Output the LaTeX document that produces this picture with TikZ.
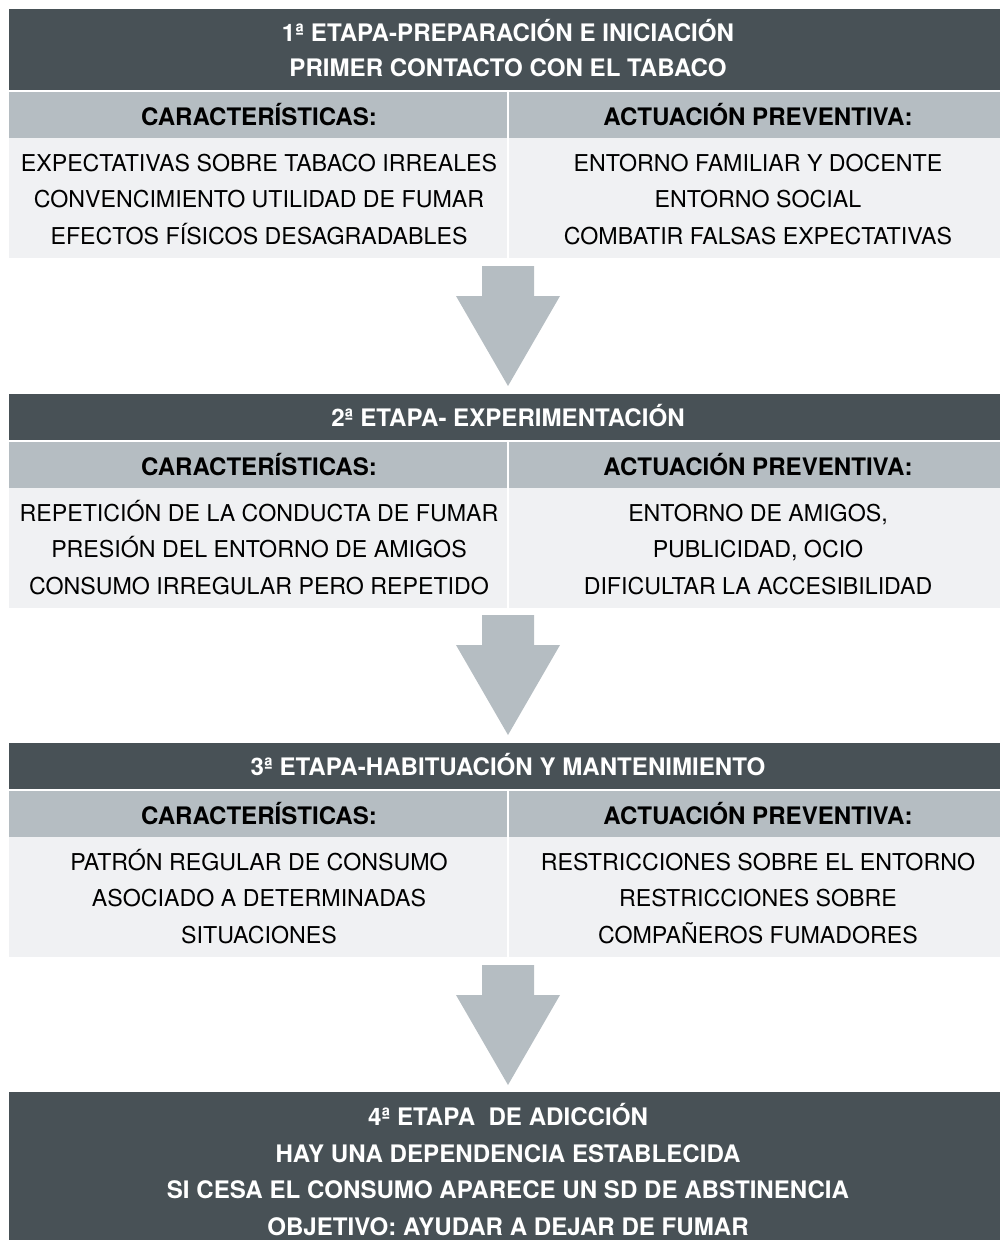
\documentclass[tikz,border=0pt]{standalone}
\usepackage{fontspec}
\setmainfont{TeX Gyre Heros}
\definecolor{darkhdr}{HTML}{485156}
\definecolor{subgray}{HTML}{B5BDC2}
\definecolor{bodygray}{HTML}{F0F1F3}
\definecolor{arrowgray}{HTML}{B5BDC2}
\begin{document}
\begin{tikzpicture}[x=1pt,y=-1pt,
  hdrtxt/.style={text=white, font=\bfseries\fontsize{24.1}{36}\selectfont, inner sep=0pt, text height=17.3pt, text depth=0pt},
  subtxt/.style={text=black, font=\bfseries\fontsize{24.1}{36}\selectfont, inner sep=0pt, text height=17.3pt, text depth=0pt},
  bodytxt/.style={text=black, font=\fontsize{23.2}{36}\selectfont, inner sep=0pt, text height=16.7pt, text depth=0pt},
  sepline/.style={draw=white, line width=1.2pt},
  downarrow/.pic={\fill[arrowgray] (-26,0) -- (26,0) -- (26,30) -- (52,30) -- (0,120) -- (-52,30) -- (-26,30) -- cycle;}
]
\useasboundingbox (0,0) rectangle (999,1240);

% ---------- Block 1 ----------
\fill[darkhdr] (9,9) rectangle (1010,91);
\fill[subgray] (9,91) rectangle (1010,138);
\fill[bodygray] (9,138) rectangle (1010,258);
\draw[sepline] (9,91) -- (1010,91);
\draw[sepline] (508,91) -- (508,258);
\node[hdrtxt] (h1a) at (508,33) {1ª ETAPA-PREPARACIÓN E INICIACIÓN};
\node[hdrtxt] (h1b) at (508,68) {PRIMER CONTACTO CON EL TABACO};
\node[subtxt] (s1l) at (259,116.5) {CARACTERÍSTICAS:};
\node[subtxt] (s1r) at (758,116.5) {ACTUACIÓN PREVENTIVA:};
\node[bodytxt] (b1l1) at (259,163) {EXPECTATIVAS SOBRE TABACO IRREALES};
\node[bodytxt] (b1l2) at (259,199.5) {CONVENCIMIENTO UTILIDAD DE FUMAR};
\node[bodytxt] (b1l3) at (259,236) {EFECTOS FÍSICOS DESAGRADABLES};
\node[bodytxt] (b1r1) at (758,163) {ENTORNO FAMILIAR Y DOCENTE};
\node[bodytxt] (b1r2) at (758,199.5) {ENTORNO SOCIAL};
\node[bodytxt] (b1r3) at (758,236) {COMBATIR FALSAS EXPECTATIVAS};

\pic (arr1) at (508,266) {downarrow};

% ---------- Block 2 ----------
\fill[darkhdr] (9,394) rectangle (1010,441);
\fill[subgray] (9,441) rectangle (1010,488);
\fill[bodygray] (9,488) rectangle (1010,608);
\draw[sepline] (9,441) -- (1010,441);
\draw[sepline] (508,441) -- (508,608);
\node[hdrtxt] (h2) at (508,418) {2ª ETAPA- EXPERIMENTACIÓN};
\node[subtxt] (s2l) at (259,466.5) {CARACTERÍSTICAS:};
\node[subtxt] (s2r) at (758,466.5) {ACTUACIÓN PREVENTIVA:};
\node[bodytxt] (b2l1) at (259,513) {REPETICIÓN DE LA CONDUCTA DE FUMAR};
\node[bodytxt] (b2l2) at (259,549.5) {PRESIÓN DEL ENTORNO DE AMIGOS};
\node[bodytxt] (b2l3) at (259,586) {CONSUMO IRREGULAR PERO REPETIDO};
\node[bodytxt] (b2r1) at (758,513) {ENTORNO DE AMIGOS,};
\node[bodytxt] (b2r2) at (758,549.5) {PUBLICIDAD, OCIO};
\node[bodytxt] (b2r3) at (758,586) {DIFICULTAR LA ACCESIBILIDAD};

\pic (arr2) at (508,615) {downarrow};

% ---------- Block 3 ----------
\fill[darkhdr] (9,743) rectangle (1010,790);
\fill[subgray] (9,790) rectangle (1010,837);
\fill[bodygray] (9,837) rectangle (1010,957);
\draw[sepline] (9,790) -- (1010,790);
\draw[sepline] (508,790) -- (508,957);
\node[hdrtxt] (h3) at (508,767) {3ª ETAPA-HABITUACIÓN Y MANTENIMIENTO};
\node[subtxt] (s3l) at (259,815.5) {CARACTERÍSTICAS:};
\node[subtxt] (s3r) at (758,815.5) {ACTUACIÓN PREVENTIVA:};
\node[bodytxt] (b3l1) at (259,862) {PATRÓN REGULAR DE CONSUMO};
\node[bodytxt] (b3l2) at (259,898.5) {ASOCIADO A DETERMINADAS};
\node[bodytxt] (b3l3) at (259,935) {SITUACIONES};
\node[bodytxt] (b3r1) at (758,862) {RESTRICCIONES SOBRE EL ENTORNO};
\node[bodytxt] (b3r2) at (758,898.5) {RESTRICCIONES SOBRE};
\node[bodytxt] (b3r3) at (758,935) {COMPAÑEROS FUMADORES};

\pic (arr3) at (508,965) {downarrow};

% ---------- Block 4 ----------
\fill[darkhdr] (9,1092) rectangle (1010,1260);
\node[hdrtxt] (h4a) at (508,1117) {4ª ETAPA \ DE ADICCIÓN};
\node[hdrtxt] (h4b) at (508,1153.5) {HAY UNA DEPENDENCIA ESTABLECIDA};
\node[hdrtxt] (h4c) at (508,1190) {SI CESA EL CONSUMO APARECE UN SD DE ABSTINENCIA};
\node[hdrtxt] (h4d) at (508,1226.5) {OBJETIVO: AYUDAR A DEJAR DE FUMAR};
\end{tikzpicture}
\end{document}
